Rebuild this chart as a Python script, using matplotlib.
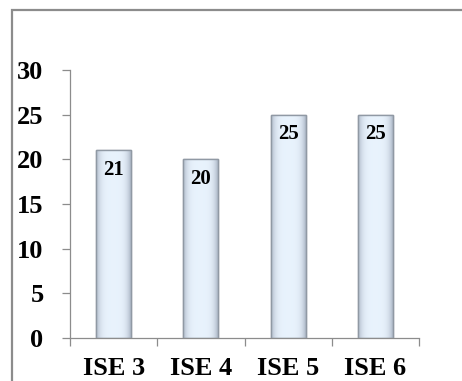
import numpy as np
import matplotlib
matplotlib.use("Agg")
import matplotlib.pyplot as plt
from matplotlib.patches import Rectangle

categories = ["ISE 3", "ISE 4", "ISE 5", "ISE 6"]
values = [21, 20, 25, 25]
y_ticks = [0, 5, 10, 15, 20, 25, 30]

plt.rcParams["font.family"] = ["Liberation Serif", "DejaVu Serif"]

fig = plt.figure(figsize=(4.62, 3.81), dpi=100)
fig.patch.set_facecolor("white")

# outer chart frame (runs off the right and bottom edges)
fig.add_artist(Rectangle((12 / 462, -0.05), 1.2, 1 - 10 / 381 + 0.05,
                         transform=fig.transFigure, fill=False,
                         edgecolor="#8c8c8c", linewidth=1.6))

ax = fig.add_axes([70 / 462, 1 - 338 / 381, (419 - 70) / 462, (338 - 70) / 381])
ax.set_xlim(-0.5, len(categories) - 0.5)
ax.set_ylim(0, 30)

x = np.arange(len(categories))
bar_w = 0.40
bars = ax.bar(x, values, width=bar_w, color="#e4eefa", edgecolor="#9aa3ad",
              linewidth=1.0, zorder=2)

# horizontal shading across each bar: darker edges, light centre
t = np.linspace(-1, 1, 64)
shade = 1 - np.abs(t) ** 4
c_edge = np.array([0.68, 0.72, 0.78])
c_mid = np.array([0.91, 0.95, 0.99])
grad = c_edge[None, :] + (c_mid - c_edge)[None, :] * shade[:, None]
grad = grad[None, :, :]
for b in bars:
    x0, w, h = b.get_x(), b.get_width(), b.get_height()
    im = ax.imshow(grad, extent=[x0, x0 + w, 0, h], aspect="auto",
                   interpolation="bilinear", zorder=2.5)
    im.set_clip_path(b)
    ax.add_patch(Rectangle((x0, 0), w, h, fill=False, edgecolor="#9099a4",
                           linewidth=1.0, zorder=3))
    ax.text(x0 + w / 2, h - 2.2, f"{int(h)}", ha="center", va="center",
            fontsize=15, fontweight="bold", color="black", zorder=4)

for side in ("top", "right"):
    ax.spines[side].set_visible(False)
for side in ("left", "bottom"):
    ax.spines[side].set_color("#8c8c8c")
    ax.spines[side].set_linewidth(0.9)

ax.set_yticks(y_ticks)
ax.set_yticklabels([str(v) for v in y_ticks], fontsize=19, fontweight="bold")
ax.set_xticks(np.arange(len(categories) + 1) - 0.5, minor=False)
ax.set_xticklabels([])
ax.set_xticks(x, minor=True)
ax.set_xticklabels(categories, minor=True, fontsize=19, fontweight="bold")
ax.tick_params(axis="x", which="major", length=6, color="#8c8c8c", width=0.9)
ax.tick_params(axis="x", which="minor", length=0, pad=14)
ax.tick_params(axis="y", length=6, color="#8c8c8c", width=0.9, pad=13)

fig.savefig("out.png", dpi=100, facecolor="white")
